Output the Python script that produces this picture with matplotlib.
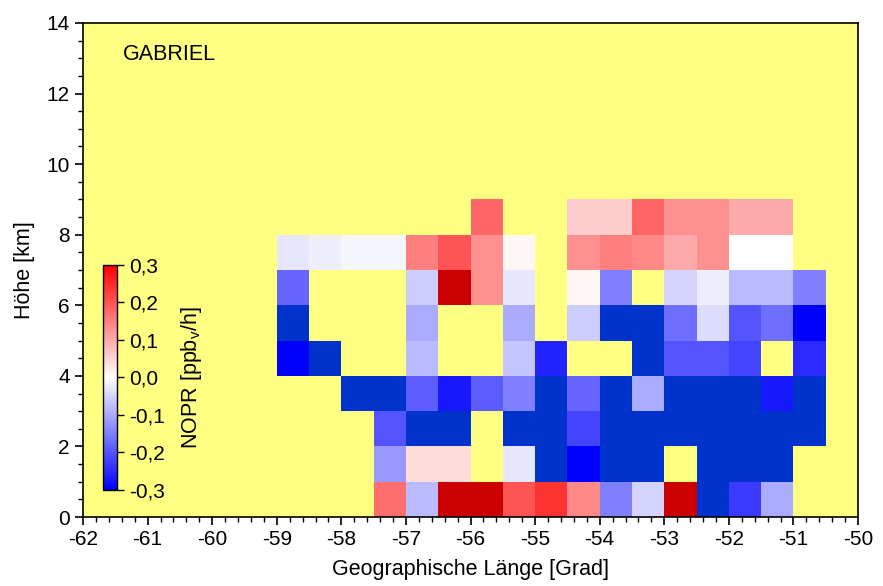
import numpy as np
import matplotlib
matplotlib.use("Agg")
import matplotlib.pyplot as plt
from matplotlib.ticker import MultipleLocator, FuncFormatter

plt.rcParams['font.family'] = ['Liberation Sans', 'DejaVu Sans']
plt.rcParams['axes.unicode_minus'] = False

# grid edges (longitude in deg, altitude in km)
lon_edges = np.arange(-59.0, -50.49, 0.5)
alt_edges = np.arange(0, 10, 1)

N = np.nan
U = -0.5   # below colour range
O = 0.5    # above colour range

# rows from bottom (0-1 km) to top (8-9 km), 17 columns from -59 to -51
nopr = np.array([
    [N, N, N, 0.17, -0.08, O, O, 0.20, 0.24, 0.14, -0.15, -0.05, O, U, -0.23, -0.10, N],
    [N, N, N, -0.12, 0.04, 0.04, N, -0.03, U, -0.30, U, U, N, U, U, U, N],
    [N, N, N, -0.20, U, U, N, U, U, -0.22, U, U, U, U, U, U, U],
    [N, N, U, U, -0.19, -0.27, -0.19, -0.15, U, -0.18, U, -0.10, U, U, U, -0.27, U],
    [-0.30, U, N, N, -0.08, N, N, -0.07, -0.26, N, N, U, -0.20, -0.20, -0.22, N, -0.25],
    [U, N, N, N, -0.10, N, N, -0.10, N, -0.06, U, U, -0.17, -0.04, -0.20, -0.17, -0.30],
    [-0.18, N, N, N, -0.06, O, 0.13, -0.03, N, 0.01, -0.15, N, -0.05, -0.02, -0.08, -0.08, -0.15],
    [-0.03, -0.02, -0.01, -0.01, 0.15, 0.20, 0.13, 0.01, N, 0.13, 0.15, 0.14, 0.10, 0.13, 0.0, 0.0, N],
    [N, N, N, N, N, N, 0.18, N, N, 0.06, 0.06, 0.18, 0.13, 0.13, 0.10, 0.10, N],
])

cbar_ticks = [-0.3, -0.2, -0.1, 0.0, 0.1, 0.2, 0.3]

fig = plt.figure(figsize=(8.83, 5.86), dpi=100)
ax = fig.add_axes([0.094, 0.1177, 0.8777, 0.8431])
ax.set_facecolor('#ffff82')

cmap = plt.get_cmap('bwr').copy()
cmap.set_under('#0033cc')
cmap.set_over('#cc0000')
cmap.set_bad((0, 0, 0, 0))

mesh = ax.pcolormesh(lon_edges, alt_edges, np.ma.masked_invalid(nopr),
                     cmap=cmap, vmin=-0.3, vmax=0.3, shading='flat')

ax.set_xlim(-62, -50)
ax.set_ylim(0, 14)
ax.xaxis.set_major_locator(MultipleLocator(1))
ax.xaxis.set_minor_locator(MultipleLocator(0.2))
ax.yaxis.set_major_locator(MultipleLocator(2))
ax.yaxis.set_minor_locator(MultipleLocator(0.5))
ax.tick_params(which='major', direction='out', length=6, width=1.2, labelsize=15)
ax.tick_params(which='minor', direction='out', length=3.5, width=1)
ax.set_xlabel('Geographische Länge [Grad]', fontsize=15.5, labelpad=7)
ax.set_ylabel('Höhe [km]', fontsize=15.5, labelpad=8)
for s in ax.spines.values():
    s.set_linewidth(1.2)

ax.text(-61.38, 13.1, 'GABRIEL', fontsize=15.5, ha='left', va='center')

# colorbar inside the plot
cax = fig.add_axes([0.117, 0.164, 0.016, 0.384])
cb = fig.colorbar(mesh, cax=cax, ticks=cbar_ticks, extend='neither')
cb.ax.tick_params(direction='out', length=5, width=1, labelsize=15)
cb.ax.yaxis.set_major_formatter(FuncFormatter(lambda v, p: f'{v:.1f}'.replace('.', ',').replace('-0,0', '0,0')))
cb.outline.set_linewidth(1)
cb.set_label('NOPR [ppb$_\\mathregular{v}$/h]', fontsize=15.5, labelpad=10)

fig.savefig('out.png', dpi=100)
